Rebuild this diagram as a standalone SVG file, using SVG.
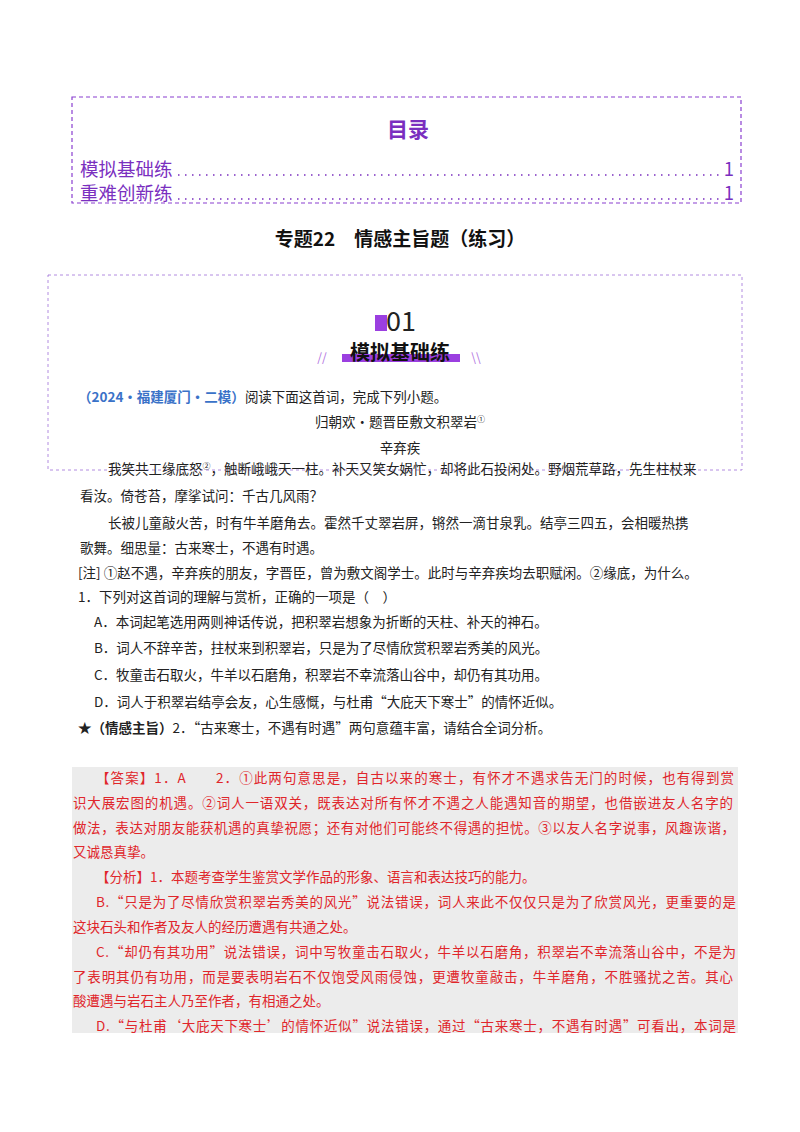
<svg xmlns="http://www.w3.org/2000/svg" width="800" height="1132" viewBox="0 0 800 1132">
<style>
text{font-family:"Noto Sans CJK SC","Liberation Sans",sans-serif;}
.b{font-size:13.5px;fill:#222}
.r{font-size:13.5px;fill:#e0262b}
.toc{font-size:18.5px;fill:#7a2fbf}
</style>
<rect width="800" height="1132" fill="#fff"/>
<g id="toc">
<rect x="72" y="97" width="669" height="106" fill="none" stroke="#8a3fd0" stroke-dasharray="4,3" stroke-width="1.2"/>
<text x="408" y="137" text-anchor="middle" font-size="21" font-weight="bold" fill="#7a2fbf">目录</text>
<text x="80" y="176" class="toc">模拟基础练</text>
<line x1="178" y1="175" x2="724" y2="175" stroke="#7a2fbf" stroke-width="1.5" stroke-dasharray="1.5,5.5"/>
<text x="734" y="176" class="toc" text-anchor="end">1</text>
<text x="80" y="200" class="toc">重难创新练</text>
<line x1="178" y1="199" x2="724" y2="199" stroke="#7a2fbf" stroke-width="1.5" stroke-dasharray="1.5,5.5"/>
<text x="734" y="200" class="toc" text-anchor="end">1</text>
</g>
<text x="400" y="246" text-anchor="middle" font-size="19" font-weight="bold" fill="#111">专题22　情感主旨题（练习）</text>
<g id="section">
<rect x="48" y="275" width="694" height="195" fill="none" stroke="#a070d8" stroke-dasharray="3,3" stroke-width="0.8"/>
<rect x="375" y="315" width="12" height="16" fill="#9b3fe0"/>
<text x="401" y="331" text-anchor="middle" font-size="27" font-family="Liberation Sans" fill="#222">01</text>
<rect x="342" y="354" width="118" height="8" fill="#9b3fe0"/>
<text x="400" y="360" text-anchor="middle" font-size="20" font-weight="bold" fill="#111">模拟基础练</text>
<text x="322" y="362" text-anchor="middle" font-size="12" fill="#b070e0">//</text>
<text x="476" y="362" text-anchor="middle" font-size="12" fill="#b070e0">\\</text>
</g>
<g id="question">
<text x="78" y="402" class="b"><tspan fill="#3a72c8" font-weight="bold">（2024·福建厦门·二模）</tspan>阅读下面这首词，完成下列小题。</text>
<text x="400" y="427" class="b" text-anchor="middle" font-size="12.5">归朝欢·题晋臣敷文积翠岩<tspan font-size="8" dy="-5">①</tspan></text>
<text x="400" y="453" class="b" text-anchor="middle" font-size="12.5">辛弃疾</text>
<text x="108" y="474" class="b" font-size="12.5">我笑共工缘底怒<tspan font-size="8" dy="-5">②</tspan><tspan dy="5">，触断峨峨天一柱。补天又笑女娲忙，却将此石投闲处。野烟荒草路，先生柱杖来</tspan></text>
<text x="80" y="501" class="b" font-size="12.5">看汝。倚苍苔，摩挲试问：千古几风雨？</text>
<text x="108" y="528" class="b" font-size="12.5">长被儿童敲火苦，时有牛羊磨角去。霍然千丈翠岩屏，锵然一滴甘泉乳。结亭三四五，会相暖热携</text>
<text x="80" y="553" class="b" font-size="12.5">歌舞。细思量：古来寒士，不遇有时遇。</text>
<text x="78" y="578" class="b">[注] ①赵不遇，辛弃疾的朋友，字晋臣，曾为敷文阁学士。此时与辛弃疾均去职赋闲。②缘底，为什么。</text>
<text x="78" y="602" class="b">1．下列对这首词的理解与赏析，正确的一项是（　）</text>
<text x="94" y="627" class="b">A．本词起笔选用两则神话传说，把积翠岩想象为折断的天柱、补天的神石。</text>
<text x="94" y="653" class="b">B．词人不辞辛苦，拄杖来到积翠岩，只是为了尽情欣赏积翠岩秀美的风光。</text>
<text x="94" y="680" class="b">C．牧童击石取火，牛羊以石磨角，积翠岩不幸流落山谷中，却仍有其功用。</text>
<text x="94" y="707" class="b">D．词人于积翠岩结亭会友，心生感慨，与杜甫“大庇天下寒士”的情怀近似。</text>
<text x="78" y="733" class="b"><tspan font-weight="bold">★（情感主旨）</tspan>2．“古来寒士，不遇有时遇”两句意蕴丰富，请结合全词分析。</text>
</g>
<g id="answer">
<rect x="72" y="767" width="666" height="266" fill="#ececec"/>
<text x="96" y="783" class="r" textLength="638" lengthAdjust="spacing">【答案】1．A　　2．①此两句意思是，自古以来的寒士，有怀才不遇求告无门的时候，也有得到赏</text>
<text x="73" y="808" class="r" textLength="660" lengthAdjust="spacing">识大展宏图的机遇。②词人一语双关，既表达对所有怀才不遇之人能遇知音的期望，也借嵌进友人名字的</text>
<text x="73" y="833" class="r" textLength="662" lengthAdjust="spacing">做法，表达对朋友能获机遇的真挚祝愿；还有对他们可能终不得遇的担忧。③以友人名字说事，风趣诙谐，</text>
<text x="73" y="857" class="r">又诚恳真挚。</text>
<text x="96" y="882" class="r">【分析】1．本题考查学生鉴赏文学作品的形象、语言和表达技巧的能力。</text>
<text x="96" y="907" class="r" textLength="640" lengthAdjust="spacing">B.“只是为了尽情欣赏积翠岩秀美的风光”说法错误，词人来此不仅仅只是为了欣赏风光，更重要的是</text>
<text x="73" y="932" class="r">这块石头和作者及友人的经历遭遇有共通之处。</text>
<text x="96" y="957" class="r" textLength="640" lengthAdjust="spacing">C.“却仍有其功用”说法错误，词中写牧童击石取火，牛羊以石磨角，积翠岩不幸流落山谷中，不是为</text>
<text x="73" y="982" class="r" textLength="660" lengthAdjust="spacing">了表明其仍有功用，而是要表明岩石不仅饱受风雨侵蚀，更遭牧童敲击，牛羊磨角，不胜骚扰之苦。其心</text>
<text x="73" y="1006" class="r">酸遭遇与岩石主人乃至作者，有相通之处。</text>
<text x="96" y="1031" class="r" textLength="640" lengthAdjust="spacing">D.“与杜甫‘大庇天下寒士’的情怀近似”说法错误，通过“古来寒士，不遇有时遇”可看出，本词是</text>
</g>
</svg>
